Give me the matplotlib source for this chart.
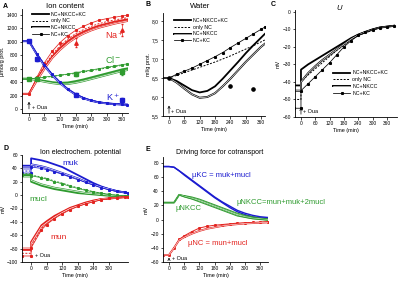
import matplotlib
matplotlib.use('Agg')
import matplotlib.pyplot as plt
import matplotlib.patheffects as pe

plt.rcParams['font.family'] = ['Liberation Sans', 'DejaVu Sans']

# cores das curvas
RED = '#e3231f'
GREEN = '#2f9b2f'
BLUE = '#1c1cd0'

# ---------- A: ion content ----------
tA = [-30, 0, 30, 60, 90, 120, 150, 180, 210, 240, 270, 300, 330, 360, 380]
na_main = [225, 225, 430, 620, 780, 910, 1010, 1090, 1150, 1200, 1240, 1270, 1300, 1320, 1335]
na_nc = [225, 225, 450, 650, 810, 940, 1040, 1120, 1180, 1230, 1270, 1300, 1325, 1345, 1360]
na_nkcc = [225, 225, 420, 600, 760, 880, 980, 1060, 1120, 1170, 1210, 1240, 1270, 1295, 1310]
na_kc = [225, 225, 470, 690, 860, 990, 1090, 1170, 1230, 1280, 1320, 1345, 1365, 1385, 1395]
k_main = [1010, 1010, 820, 650, 510, 395, 295, 220, 165, 125, 100, 85, 75, 68, 65]
k_nc = [1010, 1010, 830, 660, 520, 400, 300, 225, 170, 130, 105, 88, 78, 70, 67]
k_nkcc = [1010, 1010, 815, 640, 500, 385, 290, 215, 160, 122, 98, 83, 73, 66, 63]
k_kc = [1010, 1010, 825, 655, 515, 398, 298, 222, 168, 128, 102, 86, 76, 69, 66]
cl_main = [450, 450, 440, 420, 400, 390, 395, 415, 440, 470, 500, 530, 560, 590, 605]
cl_nc = [450, 450, 455, 470, 485, 500, 515, 530, 550, 570, 590, 610, 630, 650, 660]
cl_nkcc = [450, 450, 430, 405, 385, 370, 372, 390, 415, 445, 475, 505, 535, 565, 580]
cl_kc = [450, 450, 460, 475, 490, 505, 520, 540, 560, 580, 600, 620, 640, 660, 672]
# pontos experimentais
exp_t = [0, 32, 180, 360]
exp_k = [1005, 740, 215, 140]
exp_cl = [450, 450, 525, 550]
exp_na_t = [180, 360]
exp_na = [990, 1180]

# ---------- B: water ----------
tB = [-30, 0, 30, 60, 90, 120, 150, 180, 210, 240, 270, 300, 330, 360, 375]
w_main = [6.5, 6.5, 6.42, 6.3, 6.18, 6.12, 6.16, 6.28, 6.48, 6.7, 6.92, 7.15, 7.36, 7.56, 7.66]
w_nc = [6.5, 6.5, 6.57, 6.64, 6.71, 6.78, 6.85, 6.92, 7.0, 7.08, 7.17, 7.26, 7.35, 7.45, 7.5]
w_nkcc = [6.5, 6.5, 6.38, 6.22, 6.07, 5.98, 6.0, 6.1, 6.28, 6.48, 6.7, 6.92, 7.12, 7.32, 7.4]
w_kc = [6.5, 6.5, 6.6, 6.68, 6.76, 6.86, 6.96, 7.06, 7.17, 7.3, 7.42, 7.54, 7.66, 7.78, 7.84]
exp_w_t = [0, 240, 330]
exp_w = [6.5, 6.3, 6.2]

# ---------- C: membrane potential U ----------
tC = [-30, 0, 0, 30, 60, 90, 120, 150, 180, 210, 240, 270, 300, 330, 360, 390]
u_main = [-42, -42, -33, -30, -27.5, -25, -22.5, -20, -17.5, -15, -13, -11.5, -10, -9, -8.5, -8]
u_nc = [-50, -50, -40, -36, -32.5, -29, -25.5, -22, -19, -16, -13.5, -12, -10.5, -9, -8.5, -8]
u_nkcc = [-45, -45, -40, -35, -31, -27.5, -24.5, -21.5, -18.5, -15.5, -13.2, -11.5, -10.2, -9, -8.5, -8]
u_kc = [-55, -55, -45, -41, -37, -33, -29, -24.5, -20, -16.5, -13.5, -11.8, -10.2, -9, -8.5, -8]

# ---------- D: ion electrochemical potential ----------
tD = [-35, 0, 0, 40, 60, 90, 120, 150, 180, 210, 240, 270, 300, 330, 360, 372]
muk_main = [44, 44, 55, 52, 50, 46, 42, 36, 30, 24, 18, 13, 9, 6, 4, 3]
muk_nc = [36, 36, 44, 42, 40, 36, 32, 28, 24, 20, 16, 12, 9, 6, 4, 3]
muk_nkcc = [40, 40, 46, 43, 41, 37, 33, 29, 25, 20, 16, 12, 9, 6, 4, 3]
muk_kc = [33, 33, 42, 40, 38, 35, 31, 27, 23, 19, 15, 11, 8, 6, 4, 3]
mucl_main = [30, 30, 20, 14, 12, 9, 7, 5, 3, 2, 1, 0, -1, -1.5, -2, -2]
mucl_nc = [32, 32, 30, 27, 25, 21, 18, 14, 11, 8, 5, 3, 1, -0.5, -1.5, -2]
mucl_nkcc = [28, 28, 22, 16, 14, 11, 9, 7, 5, 3, 2, 1, 0, -1, -2, -2]
mucl_kc = [30, 30, 29, 26, 24, 20, 17, 13, 10, 7, 5, 3, 1, -0.5, -1.5, -2]
mun_main = [-82, -82, -70, -45, -39, -31, -25, -19, -15, -11, -8, -6, -5, -4, -3, -3]
mun_nc = [-87, -87, -77, -50, -43, -34, -27, -21, -16, -12, -9, -7, -5, -4, -3, -3]
mun_nkcc = [-80, -80, -72, -47, -41, -33, -26, -20, -16, -12, -9, -6, -5, -4, -3, -3]
mun_kc = [-91, -91, -79, -52, -44, -35, -28, -22, -17, -13, -10, -7, -5, -4, -3, -3]

# ---------- E: driving force ----------
tE = [-25, 0, 20, 40, 60, 90, 120, 150, 180, 210, 240, 270, 300, 330, 360, 390]
mukc_a = [75, 75, 74, 69, 64, 56, 48, 40, 32, 25, 19, 13, 9, 6, 4, 3]
mukc_b = [75, 75, 74, 69, 63, 55, 47, 39, 31, 24, 17, 11, 7, 4, 2.5, 2]
munkcc_a = [24, 24, 24, 35, 34, 32, 29, 25, 21, 17, 13, 9, 6, 4, 2, 1]
munkcc_b = [24, 24, 24, 35, 33, 30, 27, 23, 19, 15, 11, 7, 4, 2, 1, 0]
munkcc_c = [24, 24, 24, 35, 32, 29, 25, 21, 17, 13, 9, 5, 3, 1, 0, -1]
munc_a = [-50, -50, -40, -28, -23, -17, -12, -9.5, -8, -7, -6, -5, -4.5, -4, -3.5, -3]
munc_b = [-50, -50, -40, -29, -25, -20, -16, -13, -11, -9, -7.5, -6.5, -5.5, -5, -4.5, -4]


def estilo(ax, xlim, ylim, xticks, yticks, ylabel, yfmt=None):
    ax.set_xlim(xlim)
    ax.set_ylim(ylim)
    ax.set_xticks(xticks)
    ax.set_yticks(yticks)
    if yfmt:
        ax.set_yticklabels([yfmt(v) for v in yticks])
    for s in ['top', 'right']:
        ax.spines[s].set_visible(False)
    for s in ['left', 'bottom']:
        ax.spines[s].set_linewidth(0.6)
    ax.tick_params(labelsize=3.5, length=1.8, width=0.5, pad=1.2)
    ax.set_xlabel('Time (min)', fontsize=4, labelpad=1.5)
    ax.set_ylabel(ylabel, fontsize=4, labelpad=1)


def quatro(ax, t, main, nc, nkcc, kc, cor, label=False):
    # as quatro variantes do modelo
    ax.plot(t, main, color=cor, lw=1.3, label='NC+NKCC+KC' if label else None)
    ax.plot(t, nc, color=cor, lw=0.7, ls=(0, (2, 1.5)), label='only NC' if label else None)
    ax.plot(t, nkcc, color='white', lw=0.45,
            path_effects=[pe.Stroke(linewidth=1.4, foreground=cor), pe.Normal()],
            label='NC+NKCC' if label else None)
    ax.plot(t, kc, color=cor, lw=0.55, marker='s', ms=1.2, label='NC+KC' if label else None)


def legenda(ax, loc, anchor):
    leg = ax.legend(loc=loc, bbox_to_anchor=anchor, fontsize=3.8, frameon=False,
                    handlelength=3.2, handletextpad=0.4, labelspacing=0.35, borderpad=0)
    return leg


fig = plt.figure(figsize=(4, 2.81), dpi=100)

# ---- A ----
axA = fig.add_axes([22 / 400, 1 - 113 / 281, 106 / 400, 104 / 281])
quatro(axA, tA, na_main, na_nc, na_nkcc, na_kc, RED)
quatro(axA, tA, cl_main, cl_nc, cl_nkcc, cl_kc, GREEN)
quatro(axA, tA, k_main, k_nc, k_nkcc, k_kc, BLUE)
axA.errorbar(exp_t, exp_k, yerr=[0, 30, 25, 20], fmt='s', color=BLUE, ms=2.3, lw=0.5, capsize=0.8)
axA.errorbar(exp_t, exp_cl, yerr=[0, 20, 30, 50], fmt='s', color=GREEN, ms=2.3, lw=0.5, capsize=0.8)
axA.errorbar(exp_na_t, exp_na, yerr=[60, 90], fmt='^', color=RED, ms=2.5, lw=0.5, capsize=0.8)
# handles pretos para a legenda
axA.plot([], [], color='k', lw=1.3, label='NC+NKCC+KC')
axA.plot([], [], color='k', lw=0.7, ls=(0, (2, 1.5)), label='only NC')
axA.plot([], [], color='white', lw=0.45, path_effects=[pe.Stroke(linewidth=1.4, foreground='k'), pe.Normal()], label='NC+NKCC')
axA.plot([], [], color='k', lw=0.55, marker='s', ms=1.2, label='NC+KC')
legenda(axA, 'upper left', (0.07, 1.0))
axA.text(333, 1100, 'Na$^+$', color=RED, fontsize=6.5, ha='center', va='center')
axA.text(326, 730, 'Cl$^-$', color=GREEN, fontsize=6.5, ha='center', va='center')
axA.text(326, 180, 'K$^+$', color=BLUE, fontsize=6.5, ha='center', va='center')
axA.annotate('', xy=(0, 150), xytext=(0, -40), arrowprops=dict(arrowstyle='->', lw=0.5, mutation_scale=4))
axA.text(10, 15, '+ Oua', fontsize=4, va='center')
estilo(axA, (-27, 383), (-60, 1489), range(0, 361, 60), range(0, 1401, 200), 'µmol/g prot.')
fig.text(65 / 400, 1 - 6 / 281, 'Ion content', fontsize=5.5, ha='center', va='center')
fig.text(3 / 400, 1 - 6 / 281, 'A', fontsize=5, weight='bold', va='center')

# ---- B ----
axB = fig.add_axes([163 / 400, 1 - 116 / 281, 102 / 400, 103 / 281])
quatro(axB, tB, w_main, w_nc, w_nkcc, w_kc, 'k', label=True)
axB.plot(exp_w_t, exp_w, 'o', color='k', ms=2.3)
legenda(axB, 'upper left', (0.08, 0.98))
axB.annotate('', xy=(0, 5.85), xytext=(0, 5.5), arrowprops=dict(arrowstyle='->', lw=0.5, mutation_scale=4))
axB.text(8, 5.63, '+ Oua', fontsize=4, va='center')
estilo(axB, (-23.5, 375.6), (5.5, 8.21), range(0, 361, 60), [5.5, 6.0, 6.5, 7.0, 7.5, 8.0], 'ml/g prot.',
       yfmt=lambda v: ('%.1f' % v).replace('.', ','))
fig.text(200 / 400, 1 - 6 / 281, 'Water', fontsize=5.5, ha='center', va='center')
fig.text(145 / 400, 1 - 5 / 281, 'B', fontsize=5, weight='bold', va='center')

# ---- C ----
axC = fig.add_axes([295 / 400, 1 - 117 / 281, 102 / 400, 107 / 281])
quatro(axC, tC, u_main, u_nc, u_nkcc, u_kc, 'k', label=True)
legenda(axC, 'upper left', (0.35, 0.46))
axC.annotate('', xy=(0, -53), xytext=(0, -60), arrowprops=dict(arrowstyle='->', lw=0.5, mutation_scale=4))
axC.text(8, -57, '+ Oua', fontsize=4, va='center')
estilo(axC, (-25, 402), (-60, 1), range(0, 361, 60), range(-60, 1, 10), 'mV')
fig.text(339 / 400, 1 - 8 / 281, 'U', fontsize=5.5, style='italic', ha='center', va='center')
fig.text(271 / 400, 1 - 5 / 281, 'C', fontsize=5, weight='bold', va='center')

# ---- D ----
axD = fig.add_axes([22 / 400, 1 - 262 / 281, 106 / 400, 107 / 281])
quatro(axD, tD, muk_main, muk_nc, muk_nkcc, muk_kc, BLUE)
quatro(axD, tD, mucl_main, mucl_nc, mucl_nkcc, mucl_kc, GREEN)
quatro(axD, tD, mun_main, mun_nc, mun_nkcc, mun_kc, RED)
axD.text(150, 48, 'muk', color=BLUE, fontsize=6, ha='center', va='center')
axD.text(28, -7, 'mucl', color=GREEN, fontsize=6, ha='center', va='center')
axD.text(104, -63, 'mun', color=RED, fontsize=6, ha='center', va='center')
axD.text(15, -91, '+ Oua', fontsize=4, va='center')
estilo(axD, (-35, 373), (-100, 60), range(0, 301, 60), range(-100, 61, 20), 'mV')
fig.text(80 / 400, 1 - 153 / 281, 'Ion electrochem. potential', fontsize=5, ha='center', va='center')
fig.text(3 / 400, 1 - 149 / 281, 'D', fontsize=5, weight='bold', va='center')

# ---- E ----
axE = fig.add_axes([163 / 400, 1 - 262 / 281, 105 / 400, 105 / 281])
axE.plot(tE, mukc_a, color=BLUE, lw=1.0)
axE.plot(tE, mukc_b, color=BLUE, lw=1.0)
axE.plot(tE, munkcc_a, color=GREEN, lw=0.7)
axE.plot(tE, munkcc_b, color='white', lw=0.4, path_effects=[pe.Stroke(linewidth=1.3, foreground=GREEN), pe.Normal()])
axE.plot(tE, munkcc_c, color=GREEN, lw=0.7)
axE.plot(tE, munc_a, color=RED, lw=0.7, marker='s', ms=1.1)
axE.plot(tE, munc_b, color='white', lw=0.4, path_effects=[pe.Stroke(linewidth=1.3, foreground=RED), pe.Normal()])
axE.text(208, 63, 'µKC = muk+mucl', color=BLUE, fontsize=5.5, ha='center', va='center')
axE.text(76, 16, 'µNKCC', color=GREEN, fontsize=5.5, ha='center', va='center')
axE.text(265, 24, 'µNKCC=mun+muk+2mucl', color=GREEN, fontsize=5.5, ha='left', va='center', clip_on=False)
axE.text(194, -34, 'µNC = mun+mucl', color=RED, fontsize=5.5, ha='center', va='center')
axE.annotate('', xy=(0, -50), xytext=(0, -60), arrowprops=dict(arrowstyle='->', lw=0.5, mutation_scale=4))
axE.text(10, -55, '+ Oua', fontsize=4, va='center')
estilo(axE, (-23.7, 391), (-60, 88.5), range(0, 361, 60), range(-60, 81, 20), 'mV')
fig.text(220 / 400, 1 - 153 / 281, 'Driving force for cotransport', fontsize=5, ha='center', va='center')
fig.text(146 / 400, 1 - 150 / 281, 'E', fontsize=5, weight='bold', va='center')

plt.savefig('out.png', dpi=100)
plt.close()
